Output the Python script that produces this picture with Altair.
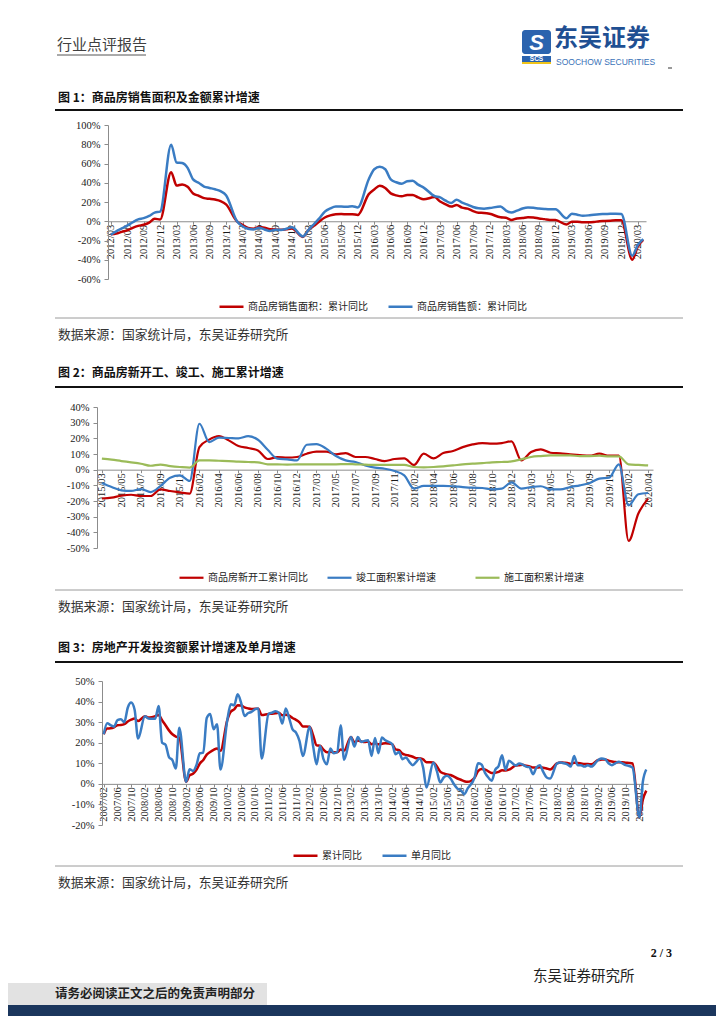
import altair as alt
import pandas as pd

CJK = "Noto Sans CJK SC"
SERIF = "Liberation Serif"
SANS = "Liberation Sans"


def months(y0, m0, y1, m1, with_jan=True):
    out, y, m = [], y0, m0
    while (y, m) <= (y1, m1):
        if with_jan or m != 1:
            out.append(f"{y}/{m:02d}")
        m += 1
        if m == 13:
            y, m = y + 1, 1
    return out


# ---------------- Figure 1: sales area / sales amount, cumulative YoY (%) 2012/03-2020/04
M1 = months(2012, 3, 2020, 4)
f1_names = ["商品房销售面积：累计同比", "商品房销售额：累计同比"]
f1_area = [
    -13.6, -12.8, -11.0, -9.5, -6.8, -4.8, -3.7, -1.5, 2.6, 1.8,
    None, 51.0, 37.1, 38.3, 35.8, 28.9, 26.5, 24.0, 23.3, 22.5, 21.0, 17.6,
    None, -0.1, -3.8, -6.9, -7.8, -6.0, -6.7, -8.3, -8.6, -8.9, -8.2, -7.6,
    None, -16.3, -9.2, -4.8, -0.2, 3.9, 6.1, 7.2, 7.5, 7.2, 7.4, 6.5,
    None, 28.2, 33.1, 36.8, 34.5, 29.0, 26.9, 25.9, 27.3, 27.3, 24.8, 22.8,
    None, 25.1, 20.5, 17.6, 15.2, 16.9, 14.1, 13.1, 10.6, 8.9, 8.6, 7.7,
    None, 4.1, 3.6, 1.3, 2.9, 3.3, 4.2, 4.0, 2.9, 2.2, 1.4, 1.3,
    None, -3.4, -0.5, -0.4, -1.1, -1.1, -0.8, 0.0, 0.3, 0.6, 1.0, 1.0,
    None, -39.9, -26.3, -19.3,
]
f1_amount = [
    -14.0, -10.5, -7.5, -4.5, -1.0, 2.0, 3.2, 5.5, 9.0, 10.0,
    None, 79.5, 61.0, 60.5, 55.5, 43.5, 40.0, 36.0, 34.6, 33.2, 31.2, 27.0,
    None, -0.1, -5.2, -7.8, -8.5, -6.7, -8.5, -10.0, -8.9, -9.0, -7.8, -6.3,
    None, -15.8, -9.3, -3.1, 3.0, 10.0, 13.4, 15.3, 15.3, 15.0, 15.6, 14.4,
    None, 43.6, 54.1, 56.5, 54.0, 43.5, 40.5, 39.0, 41.5, 42.0, 38.0, 35.0,
    None, 26.2, 24.8, 21.4, 18.9, 22.4, 19.3, 17.2, 14.8, 13.4, 13.1, 13.7,
    None, 15.3, 11.0, 9.0, 11.0, 13.2, 14.3, 14.0, 13.2, 12.7, 12.4, 12.5,
    None, 3.0, 7.8, 6.8, 5.8, 6.1, 6.8, 7.3, 7.5, 7.8, 7.9, 7.6,
    None, -35.9, -24.7, -18.6,
]

# ---------------- Figure 2: new starts / completions / under construction, cumulative YoY (%)
M2 = months(2015, 3, 2020, 4, with_jan=False)
f2_names = ["商品房新开工累计同比", "竣工面积累计增速", "施工面积累计增速"]
f2_new = [
    -18.4, -17.9, -16.6, -16.0, -16.8, -16.8, -12.6, -13.6, -14.5, -15.3,
    14.4, 19.2, 21.4, 18.7, 15.1, 13.8, 12.3, 6.8, 8.0, 7.7, 8.1,
    10.2, 11.5, 11.5, 9.8, 10.6, 8.1, 8.1, 6.8, 5.5, 6.8, 7.2,
    3.0, 10.2, 7.2, 10.6, 11.9, 14.4, 16.1, 17.0, 16.6, 17.0, 18.1,
    5.9, 11.3, 13.0, 10.8, 10.4, 9.8, 9.3, 8.9, 10.2, 8.9, 9.0,
    -45.5, -28.0, -18.5,
]
f2_done = [
    -8.5, -11.1, -13.2, -13.6, -12.4, -14.3, -10.5, -5.1, -3.6, -7.2,
    29.3, 17.6, 20.4, 20.2, 20.0, 21.4, 19.1, 12.7, 7.0, 6.6, 5.9,
    15.9, 16.3, 13.4, 8.7, 5.9, 4.9, 2.7, 1.3, 0.6, -0.9, -3.6,
    -12.1, -10.4, -10.4, -10.4, -10.6, -11.1, -11.5, -11.7, -12.6, -12.1, -8.1,
    -12.1, -11.1, -10.6, -12.6, -12.6, -11.1, -10.0, -8.5, -5.7, -5.1, 3.4,
    -22.8, -15.7, -14.9,
]
f2_build = [
    7.0, 6.4, 5.5, 4.7, 3.8, 2.5, 3.2, 2.3, 1.7, 1.3,
    5.9, 5.9, 5.7, 5.5, 5.1, 4.9, 4.7, 3.4, 3.4, 3.2, 3.4,
    3.4, 3.4, 3.4, 3.4, 3.6, 3.4, 3.2, 3.0, 3.0, 3.0, 3.0,
    1.7, 1.5, 1.7, 2.1, 2.7, 3.4, 3.8, 4.2, 4.7, 4.9, 5.3,
    6.6, 8.1, 8.7, 9.1, 9.1, 9.1, 8.7, 8.7, 8.9, 8.5, 8.5,
    3.4, 3.0, 2.7,
]

# ---------------- Figure 3: real-estate investment, cumulative and single-month YoY (%)
M3 = months(2007, 2, 2020, 4)
f3_names = ["累计同比", "单月同比"]
f3_cum = [
    24.1, 26.9, 27.0, 27.5, 28.5, 28.6, 29.0, 30.3, 31.2, 31.8, 30.5,
    None, 32.9, 32.2, 32.4, 32.9, 33.5, 30.9, 28.5, 26.0, 24.1, 23.0, 22.5,
    None, 1.0, 4.1, 4.9, 6.8, 9.9, 11.6, 14.2, 15.5, 16.5, 17.2, 16.1,
    None, 31.1, 35.1, 36.2, 38.2, 38.1, 37.2, 36.7, 36.4, 36.5, 36.5, 33.5,
    None, 34.0, 34.1, 34.3, 34.6, 33.3, 33.6, 33.2, 32.0, 31.1, 29.9, 27.9,
    None, 27.8, 23.5, 18.7, 18.5, 16.6, 15.4, 15.6, 15.4, 15.4, 16.7, 16.2,
    None, 22.8, 20.2, 21.1, 20.6, 20.3, 20.5, 19.3, 19.7, 19.2, 19.5, 19.8,
    None, 19.3, 16.8, 16.4, 14.7, 14.1, 13.7, 13.2, 12.5, 12.4, 11.9, 10.5,
    None, 10.4, 8.5, 6.0, 5.1, 4.6, 4.3, 3.5, 2.6, 2.0, 1.3, 1.0,
    None, 3.0, 6.2, 7.2, 7.0, 6.1, 5.3, 5.4, 5.8, 6.6, 6.5, 6.9,
    None, 8.9, 9.1, 9.3, 8.8, 8.5, 7.9, 7.9, 8.1, 7.8, 7.5, 7.0,
    None, 9.9, 10.4, 10.3, 10.2, 9.7, 10.2, 10.1, 9.9, 9.7, 9.7, 9.5,
    None, 11.6, 11.8, 11.9, 11.2, 10.9, 10.6, 10.5, 10.5, 10.3, 10.2, 9.9,
    None, -16.3, -7.7, -3.3,
]
f3_month = [
    24.1, 29.5, 28.5, 27.8, 31.0, 31.4, 30.0, 37.0, 39.5, 36.0, 22.0,
    None, 32.9, 31.8, 31.7, 31.7, 37.9, 20.0, 19.0, 13.0, 11.5, 7.5, 27.3,
    None, 1.0, 7.1, 6.3, 9.1, 14.9, 15.2, 32.0, 34.0, 26.5, 29.0, 7.0,
    None, 31.1, 38.7, 38.2, 43.5, 39.5, 33.0, 34.3, 35.0, 36.2, 36.6, 12.3,
    None, 34.0, 34.6, 35.3, 34.5, 29.3, 36.6, 32.0, 26.5, 24.9, 20.9, 13.6,
    None, 27.8, 18.1, 9.5, 18.4, 12.0, 9.5, 17.2, 14.9, 15.5, 28.5, 11.7,
    None, 22.8, 18.1, 22.8, 20.4, 20.9, 21.2, 13.6, 22.3, 14.9, 22.5, 21.2,
    None, 19.3, 14.4, 15.5, 12.0, 12.8, 10.7, 9.1, 10.7, 12.3, 8.0, -1.8,
    None, 10.4, 6.3, 0.6, 3.1, 3.9, 2.6, -0.2, -2.3, -3.1, -5.0, -2.2,
    None, 3.0, 10.0, 9.4, 5.5, 3.1, 1.5, 6.8, 8.7, 13.9, 6.8, 11.2,
    None, 8.9, 9.9, 9.4, 8.4, 8.1, 4.7, 7.9, 9.1, 5.8, 3.1, 2.6,
    None, 9.9, 10.4, 10.0, 9.5, 8.4, 13.6, 9.1, 9.1, 8.4, 9.1, 8.4,
    None, 11.6, 12.3, 12.0, 10.0, 9.1, 10.0, 10.7, 10.0, 9.1, 8.7, 7.9,
    None, -16.3, 1.0, 7.0,
]

SOURCE = "数据来源：国家统计局，东吴证券研究所"
CAP1 = "图 1：商品房销售面积及金额累计增速"
CAP2 = "图 2：商品房新开工、竣工、施工累计增速"
CAP3 = "图 3：房地产开发投资额累计增速及单月增速"

RED, BLUE, GREEN = "#C00000", "#3A7CC3", "#9BBB59"


def frame(cats, series):
    rows = []
    for name, vals in series:
        for c, v in zip(cats, vals):
            if v is not None:
                rows.append({"m": c, "v": v, "s": name})
    return pd.DataFrame(rows)


ONE = pd.DataFrame({"k": [0]})


def txt(s, x, y, size, font=CJK, weight="normal", color="#222222",
        align="left", style="normal"):
    return alt.Chart(ONE).mark_text(
        text=s, font=font, fontSize=size, fontWeight=weight, color=color,
        align=align, baseline="middle", fontStyle=style
    ).encode(x=alt.value(x), y=alt.value(y))


def hline(x1, x2, y, color, width=1):
    return alt.Chart(ONE).mark_rule(color=color, strokeWidth=width).encode(
        x=alt.value(x1), x2=alt.value(x2), y=alt.value(y))


def box(x1, x2, y1, y2, color, radius=0):
    return alt.Chart(ONE).mark_rect(color=color, cornerRadius=radius).encode(
        x=alt.value(x1), x2=alt.value(x2), y=alt.value(y1), y2=alt.value(y2))


def panel(df, cats, step, names, colors, widths, ydom, ystep, w, h, xr,
          yoff, xoff, lx, ly):
    ticks = list(range(ydom[0], ydom[1] + 1, ystep))
    return alt.Chart(df).mark_line(interpolate="monotone").encode(
        x=alt.X("m:O", title=None,
                scale=alt.Scale(type="point", domain=cats, padding=0.5, range=xr),
                axis=alt.Axis(values=cats[::step], labelAngle=270, offset=xoff,
                              labelFont=SERIF, labelFontSize=10.5, labelColor="#1a1a1a",
                              domainColor="#8c8c8c", tickColor="#8c8c8c", tickSize=3,
                              labelPadding=0, labelOverlap=False, grid=False)),
        y=alt.Y("v:Q", title=None,
                scale=alt.Scale(domain=ydom, nice=False, zero=False),
                axis=alt.Axis(values=ticks, labelExpr="datum.value + '%'", offset=yoff,
                              labelFont=SERIF, labelFontSize=10.5, labelColor="#1a1a1a",
                              domainColor="#8c8c8c", tickColor="#8c8c8c", tickSize=4,
                              labelPadding=4, grid=False)),
        color=alt.Color("s:N", scale=alt.Scale(domain=names, range=colors),
                        legend=alt.Legend(title=None, orient="none", legendX=lx, legendY=ly,
                                          direction="horizontal", symbolType="stroke",
                                          symbolSize=576, symbolStrokeWidth=2.5,
                                          labelFont=CJK, labelFontSize=10,
                                          labelColor="#222222", columnPadding=15,
                                          gridAlign="all", labelOffset=3, padding=0,
                                          labelLimit=300)),
        strokeWidth=alt.StrokeWidth("s:N", scale=alt.Scale(domain=names, range=widths),
                                    legend=None),
    ).properties(width=w, height=h)


# page left of plot views = 97px, rows stacked from page top (8px)
W = 619

row0 = alt.layer(
    box(-89, W, 0, 117, "#ffffff"),
    txt("行业点评报告", -40, 37, 15, color="#404040"),
    hline(-40, 49, 47, "#555555", 1),
    box(425, 454, 22, 46, "#2b63ae", radius=3),
    txt("S", 439.5, 34.5, 22, font=SANS, weight="bold", color="#ffffff",
        align="center", style="italic"),
    box(425, 454, 48, 54, "#2b63ae"),
    txt("SCS", 439.5, 51, 6.5, font=SANS, weight="bold", color="#ffffff", align="center"),
    box(425, 454, 54, 56, "#f0c419"),
    txt("东吴证券", 457, 31, 24, weight="bold", color="#1f4f92"),
    txt("SOOCHOW SECURITIES", 459, 54, 8.5, font=SANS, color="#3a72b8"),
    hline(571, 575, 60, "#555555", 1.2),
    txt(CAP1, -39, 90, 12, weight="bold", color="#111111"),
    hline(-42, 586, 102, "#111111", 2),
).properties(width=W, height=117)

plot1 = panel(frame(M1, [(f1_names[0], f1_area), (f1_names[1], f1_amount)]),
              M1, 3, f1_names, [RED, BLUE], [2.5, 2.5], [-60, 100], 20,
              549, 154, [11, 549], -11, -57.75, 121, 168)

row2 = alt.layer(
    hline(-42, 586, 39, "#9a9a9a", 1),
    txt(SOURCE, -39, 56, 12.8, color="#333333"),
    txt(CAP2, -39, 94, 12, weight="bold", color="#111111"),
    hline(-42, 586, 108, "#111111", 2),
).properties(width=W, height=128)

plot2 = panel(frame(M2, [(f2_names[0], f2_new), (f2_names[1], f2_done),
                         (f2_names[2], f2_build)]),
              M2, 2, f2_names, [RED, BLUE, GREEN], [2.2, 2.2, 3.5], [-50, 40], 10,
              556, 141, [0, 556], 0, -78.33, 81, 157)

row4 = alt.layer(
    hline(-42, 586, 42, "#9a9a9a", 1),
    txt(SOURCE, -39, 59, 12.8, color="#333333"),
    txt(CAP3, -39, 100, 12, weight="bold", color="#111111"),
    hline(-42, 586, 114, "#111111", 2),
).properties(width=W, height=133)

plot3 = panel(frame(M3, [(f3_names[0], f3_cum), (f3_names[1], f3_month)]),
              M3, 4, f3_names, [RED, BLUE], [2.5, 2.5], [-20, 50], 10,
              551, 144, [5, 551], -5, -41.14, 195, 161)

row6 = alt.layer(
    hline(-42, 586, 41, "#9a9a9a", 1),
    txt(SOURCE, -39, 58, 12.8, color="#333333"),
    txt("2 / 3", 575, 128, 12, font=SERIF, weight="bold", color="#111111", align="right"),
    txt("东吴证券研究所", 436, 152, 14.5, color="#222222"),
    box(-89, 170, 158, 180, "#e2e2e2"),
    txt("请务必阅读正文之后的免责声明部分", -42, 169, 12.5, weight="bold", color="#222222"),
    box(-89, W, 180, 191, "#1b365d"),
).properties(width=W, height=191)

chart = alt.vconcat(row0, plot1, row2, plot2, row4, plot3, row6,
                    spacing=0, bounds="flush").resolve_scale(
    color="independent", strokeWidth="independent", x="independent", y="independent"
).resolve_legend(color="independent").properties(
    padding=0, background="#ffffff").configure_view(stroke=None)

chart.save("out.html", embed_options={"renderer": "svg", "actions": False})
